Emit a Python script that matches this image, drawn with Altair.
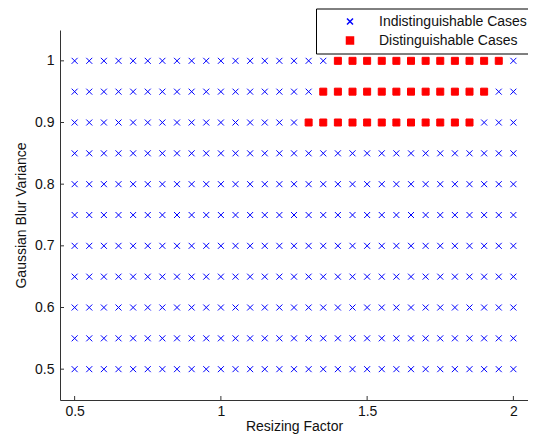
import altair as alt
import pandas as pd

# Grid of tested parameters
resize_factors = [0.5, 0.55, 0.6, 0.65, 0.7, 0.75, 0.8, 0.85, 0.9, 0.95, 1.0,
                  1.05, 1.1, 1.15, 1.2, 1.25, 1.3, 1.35, 1.4, 1.45, 1.5,
                  1.55, 1.6, 1.65, 1.7, 1.75, 1.8, 1.85, 1.9, 1.95, 2.0]
blur_variances = [0.5, 0.55, 0.6, 0.65, 0.7, 0.75, 0.8, 0.85, 0.9, 0.95, 1.0]

# Distinguishable ranges (first, last resizing factor) for each variance row
dist_rows = [1.0, 0.95, 0.9]
dist_start = [1.4, 1.35, 1.3]
dist_end = [1.95, 1.9, 1.85]

x_tick_values = [0.5, 1.0, 1.5, 2.0]
y_tick_values = [0.5, 0.6, 0.7, 0.8, 0.9, 1.0]

LAB_I = "Indistinguishable Cases"
LAB_D = "Distinguishable Cases"

ranges = {round(r, 2): (s, e) for r, s, e in zip(dist_rows, dist_start, dist_end)}
rows = []
for v in blur_variances:
    for f in resize_factors:
        cat = LAB_I
        key = round(v, 2)
        if key in ranges:
            s, e = ranges[key]
            if s - 1e-9 <= f <= e + 1e-9:
                cat = LAB_D
        rows.append({"factor": f, "variance": v, "case": cat})
df = pd.DataFrame(rows)

xpath = "M-1,-1L1,1M-1,1L1,-1"
domain = [LAB_I, LAB_D]
colors = ["#0000ff", "#ff0000"]

xscale = alt.Scale(domain=[0.45, 2.05], nice=False, zero=False)
yscale = alt.Scale(domain=[0.45, 1.05], nice=False, zero=False)

W, H = 468, 370
axis_color = "#333333"
font = "Liberation Sans"

points = alt.Chart(df).mark_point(strokeWidth=1, opacity=1).encode(
    x=alt.X("factor:Q", scale=xscale,
            axis=alt.Axis(title="Resizing Factor", values=x_tick_values, format="~g",
                          grid=False, ticks=False, tickSize=0, labelPadding=4,
                          titlePadding=1, domainColor=axis_color)),
    y=alt.Y("variance:Q", scale=yscale,
            axis=alt.Axis(title="Gaussian Blur Variance", values=y_tick_values, format="~g",
                          grid=False, ticks=False, tickSize=0, labelPadding=6,
                          titlePadding=6, domainColor=axis_color)),
    shape=alt.Shape("case:N", scale=alt.Scale(domain=domain, range=[xpath, "square"]),
                    legend=alt.Legend(title=None, orient="none", legendX=256, legendY=-21.5,
                                      fillColor="white", strokeColor="black", padding=6,
                                      symbolOffset=21, labelOffset=22, labelFontSize=14,
                                      labelFont=font, labelColor="#111111", rowPadding=5)),
    fill=alt.Fill("case:N", scale=alt.Scale(domain=domain, range=colors)),
    stroke=alt.Stroke("case:N", scale=alt.Scale(domain=domain, range=colors)),
    size=alt.Size("case:N", scale=alt.Scale(domain=domain, range=[36, 49])),
)

ytick_df = pd.DataFrame({"v": y_tick_values})
xtick_df = pd.DataFrame({"f": x_tick_values})

yticks = alt.Chart(ytick_df).mark_rule(color=axis_color, strokeWidth=1).encode(
    y=alt.Y("v:Q", scale=yscale),
    x=alt.value(0), x2=alt.value(4),
)
xticks = alt.Chart(xtick_df).mark_rule(color=axis_color, strokeWidth=1).encode(
    x=alt.X("f:Q", scale=xscale),
    y=alt.value(H), y2=alt.value(H - 4),
)

chart = alt.layer(points, yticks, xticks).properties(
    width=W, height=H,
    autosize=alt.AutoSizeParams(type="none"),
    padding={"left": 52, "top": 22, "right": 0, "bottom": 36},
).configure_view(stroke=None).configure_axis(
    labelFont=font, titleFont=font, labelFontSize=14, titleFontSize=14,
    titleFontWeight="normal", labelColor="#111111", titleColor="#111111",
    domainColor=axis_color,
)

chart.save("out.html", embed_options={"renderer": "svg", "actions": False})
